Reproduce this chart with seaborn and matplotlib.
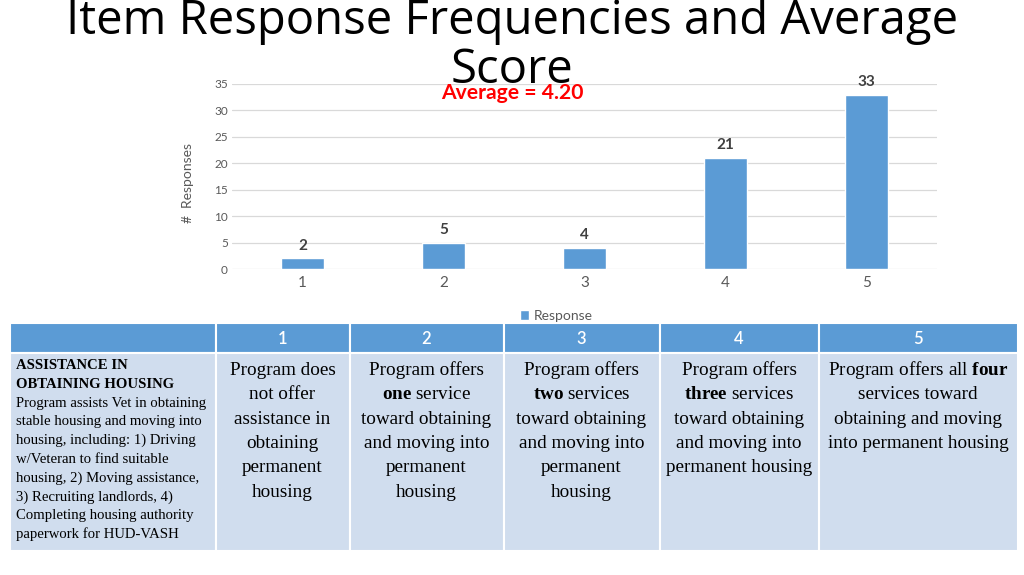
import matplotlib
matplotlib.use("Agg")
import matplotlib.pyplot as plt
import seaborn as sns
from matplotlib.patches import Rectangle

# ---- data ----
responses = ["1", "2", "3", "4", "5"]
counts = [2, 5, 4, 21, 33]
average_text = "Average = 4.20"
title_lines = ["Item Response Frequencies and Average", "Score"]
y_ticks = [0, 5, 10, 15, 20, 25, 30, 35]
legend_label = "Response"
header_labels = ["", "1", "2", "3", "4", "5"]
item_title = ["ASSISTANCE IN", "OBTAINING HOUSING"]
item_desc = ["Program assists Vet in obtaining",
             "stable housing and moving into",
             "housing, including: 1) Driving",
             "w/Veteran to find suitable",
             "housing, 2) Moving assistance,",
             "3) Recruiting landlords, 4)",
             "Completing housing authority",
             "paperwork for HUD-VASH"]
anchor_texts = [
    ["Program does", "not offer", "assistance in", "obtaining", "permanent", "housing"],
    ["Program offers", r"$\mathbf{one}$ service", "toward obtaining", "and moving into", "permanent", "housing"],
    ["Program offers", r"$\mathbf{two}$ services", "toward obtaining", "and moving into", "permanent", "housing"],
    ["Program offers", r"$\mathbf{three}$ services", "toward obtaining", "and moving into", "permanent housing"],
    [r"Program offers all $\mathbf{four}$", "services toward", "obtaining and moving", "into permanent housing"],
]

sns.set_style("white")
plt.rcParams["font.family"] = ["Lato", "DejaVu Sans"]
plt.rcParams["mathtext.fontset"] = "custom"
plt.rcParams["mathtext.rm"] = "Liberation Serif"
plt.rcParams["mathtext.bf"] = "Liberation Serif:bold"

W, H = 1024, 575
fig = plt.figure(figsize=(W / 100, H / 100), dpi=100)
fig.patch.set_facecolor("white")

def fx(px):
    return px / W

def fy(py):
    return 1 - py / H

# ---- table (drawn in pixel coordinates on a full-figure axes) ----
tab = fig.add_axes([0, 0, 1, 1])
tab.set_xlim(0, W)
tab.set_ylim(H, 0)
tab.axis("off")

col_edges = [10, 215.5, 349.5, 503.5, 659.5, 818.5, 1018]
head_top, head_bot, body_bot = 322.5, 352.5, 550.5
header_color = "#5B9BD5"
body_color = "#D0DDEE"

for i in range(6):
    x0, x1 = col_edges[i], col_edges[i + 1]
    tab.add_patch(Rectangle((x0, head_top), x1 - x0, head_bot - head_top,
                            facecolor=header_color, edgecolor="white", linewidth=1.5))
    tab.add_patch(Rectangle((x0, head_bot), x1 - x0, body_bot - head_bot,
                            facecolor=body_color, edgecolor="white", linewidth=1.5))
    if header_labels[i]:
        tab.text((x0 + x1) / 2, (head_top + head_bot) / 2 + 1, header_labels[i],
                 ha="center", va="center", color="white", fontsize=12,
                 fontweight="semibold", family=["Lato", "DejaVu Sans"])

# first column
y = 369
for line in item_title:
    tab.text(16, y, line, ha="left", va="baseline", fontsize=10.6,
             fontweight="bold", family=["Liberation Serif"], color="black")
    y += 18.8
for line in item_desc:
    tab.text(16, y, line, ha="left", va="baseline", fontsize=10.6,
             family=["Liberation Serif"], color="black")
    y += 18.8

# anchor columns
for i, lines in enumerate(anchor_texts):
    cx = (col_edges[i + 1] + col_edges[i + 2]) / 2
    y = 375
    for line in lines:
        tab.text(cx, y, line, ha="center", va="baseline", fontsize=13.8,
                 family=["Liberation Serif"], color="black")
        y += 24.3

# ---- bar chart ----
ax = fig.add_axes([fx(232), fy(269), fx(705), 185 / H])
sns.barplot(x=responses, y=counts, color="#5B9BD5", saturation=1, width=0.31,
            ax=ax, label=legend_label, zorder=2)
ax.set_ylim(0, 35)
ax.set_xlim(-0.5, len(responses) - 0.5)
ax.set_yticks(y_ticks)
ax.yaxis.grid(True, color="#D9D9D9", linewidth=0.9)
ax.set_axisbelow(True)
for s in ax.spines.values():
    s.set_visible(False)
ax.tick_params(axis="y", length=0, pad=3, labelsize=8.5, labelcolor="#595959")
ax.tick_params(axis="x", length=0, pad=5, labelsize=11, labelcolor="#595959")
ax.set_xlabel("")
ax.set_ylabel("")
ax.patch.set_alpha(0)

ax.bar_label(ax.containers[0], padding=4, fontsize=11, fontweight="bold",
             color="#404040")

fig.text(fx(188), fy(183), "#  Responses", rotation=90, ha="center", va="center",
         fontsize=10, color="#595959")

ax.legend(loc="center", bbox_to_anchor=(fx(556), fy(316)), bbox_transform=fig.transFigure,
          frameon=False, fontsize=10, handlelength=0.7, handleheight=0.7,
          handletextpad=0.3, labelcolor="#595959")

# ---- title & average ----
fig.text(0.5, fy(34), title_lines[0], ha="center", va="baseline", fontsize=34,
         family=["Open Sans", "DejaVu Sans"], color="black")
fig.text(0.5, fy(83), title_lines[1], ha="center", va="baseline", fontsize=34,
         family=["Open Sans", "DejaVu Sans"], color="black")
fig.text(0.5, fy(99), average_text, ha="center", va="baseline", fontsize=15.2,
         fontweight="bold", color="#FF0000")

fig.savefig("out.png", dpi=100)
